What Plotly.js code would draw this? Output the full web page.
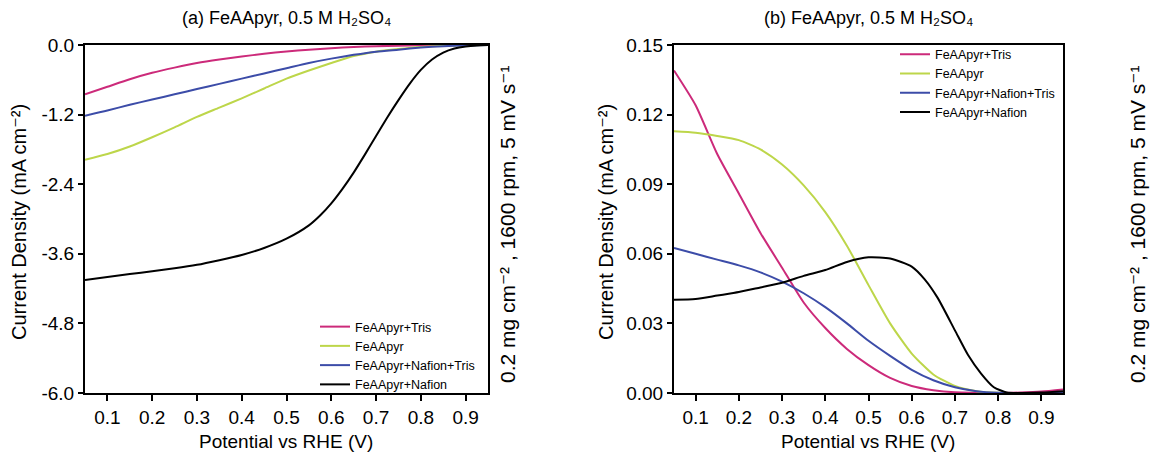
<!DOCTYPE html>
<html>
<head>
<meta charset="utf-8">
<script src="https://cdn.plot.ly/plotly-3.0.1.min.js"></script>
<style>html,body{margin:0;padding:0;background:#fff;}#chart{width:1152px;height:457px;}</style>
</head>
<body>
<div id="chart"></div>
<script>
// ---------- Data ----------
const seriesNames = ["FeAApyr+Tris", "FeAApyr", "FeAApyr+Nafion+Tris", "FeAApyr+Nafion"];

// Panel (a): LSV current density (mA cm^-2)
const potentialA = [0.05,0.1,0.15,0.2,0.25,0.3,0.35,0.4,0.45,0.5,0.55,0.6,0.65,0.7,0.75,0.8,0.85,0.9,0.95];
const trisA = [-0.85,-0.72,-0.59,-0.48,-0.39,-0.31,-0.25,-0.20,-0.15,-0.11,-0.08,-0.055,-0.035,-0.02,-0.012,-0.006,-0.003,-0.001,0];
const feaapyrA = [-1.98,-1.88,-1.75,-1.59,-1.42,-1.24,-1.08,-0.92,-0.75,-0.58,-0.44,-0.31,-0.19,-0.115,-0.07,-0.035,-0.015,-0.005,-0.001];
const nafionTrisA = [-1.22,-1.13,-1.03,-0.94,-0.85,-0.76,-0.67,-0.58,-0.49,-0.40,-0.31,-0.235,-0.17,-0.115,-0.08,-0.045,-0.02,-0.007,-0.002];
const potentialNafionA = [0.05,0.1,0.15,0.2,0.25,0.3,0.35,0.4,0.45,0.5,0.55,0.575,0.6,0.625,0.65,0.675,0.7,0.725,0.75,0.775,0.8,0.825,0.85,0.875,0.9,0.925,0.95];
const nafionA = [-4.05,-4.00,-3.95,-3.90,-3.85,-3.79,-3.71,-3.62,-3.50,-3.34,-3.11,-2.94,-2.73,-2.48,-2.20,-1.89,-1.57,-1.25,-0.95,-0.67,-0.43,-0.25,-0.13,-0.06,-0.025,-0.008,-0.002];

// Panel (b): current density (mA cm^-2)
const potentialB = [0.05,0.1,0.15,0.2,0.25,0.3,0.35,0.4,0.45,0.5,0.55,0.6,0.65,0.7,0.75,0.8,0.85,0.9,0.95];
const trisB = [0.139,0.124,0.103,0.086,0.069,0.054,0.039,0.028,0.019,0.012,0.0065,0.003,0.0012,0.0003,0.0001,0,0.0002,0.0006,0.0015];
const feaapyrB = [0.1128,0.1122,0.1108,0.1090,0.1050,0.0985,0.0895,0.0780,0.0635,0.0465,0.0300,0.0170,0.0080,0.0030,0.0008,0.0001,0,0,0];
const nafionTrisB = [0.0625,0.0600,0.0575,0.0550,0.0520,0.0480,0.0430,0.0370,0.0300,0.0225,0.0160,0.0100,0.0055,0.0025,0.0008,0.0001,0,0,0];
const potentialNafionB = [0.05,0.1,0.15,0.2,0.25,0.3,0.35,0.4,0.45,0.5,0.55,0.6,0.63,0.66,0.7,0.73,0.76,0.79,0.82,0.85,0.9,0.95];
const nafionB = [0.0402,0.0405,0.0420,0.0435,0.0455,0.0475,0.0505,0.0530,0.0565,0.0585,0.0580,0.0545,0.0490,0.0410,0.0270,0.0165,0.0085,0.0025,0.0002,0,0.0002,0.0008];

// Tick labels
const xTickVals = [0.1,0.2,0.3,0.4,0.5,0.6,0.7,0.8,0.9];
const xTickText = ["0.1","0.2","0.3","0.4","0.5","0.6","0.7","0.8","0.9"];
const yTickValsA = [0,-1.2,-2.4,-3.6,-4.8,-6.0];
const yTickTextA = ["0.0","-1.2","-2.4","-3.6","-4.8","-6.0"];
const yTickValsB = [0,0.03,0.06,0.09,0.12,0.15];
const yTickTextB = ["0.00","0.03","0.06","0.09","0.12","0.15"];

// Text
const titleA = "(a) FeAApyr, 0.5 M H\u2082SO\u2084";
const titleB = "(b) FeAApyr, 0.5 M H\u2082SO\u2084";
const xTitle = "Potential vs RHE (V)";
const yTitle = "Current Density (mA cm\u207B\u00B2)";
const sideText = "0.2 mg cm\u207B\u00B2 , 1600 rpm, 5 mV s\u207B\u00B9";

// ---------- Styling ----------
const colors = ["#cc2a7a", "#bdd64a", "#3c4ca8", "#000000"];
const FONT = "Liberation Sans, Arial, DejaVu Sans, sans-serif";

function line(x, y, i, xa, ya, lg) {
  return {x: x, y: y, type: "scatter", mode: "lines", name: seriesNames[i],
    xaxis: xa, yaxis: ya, legend: lg,
    line: {color: colors[i], width: 2, shape: "spline", smoothing: 0.6}};
}

const traces = [
  line(potentialA, trisA, 0, "x", "y", "legend"),
  line(potentialA, feaapyrA, 1, "x", "y", "legend"),
  line(potentialA, nafionTrisA, 2, "x", "y", "legend"),
  line(potentialNafionA, nafionA, 3, "x", "y", "legend"),
  line(potentialB, trisB, 0, "x2", "y2", "legend2"),
  line(potentialB, feaapyrB, 1, "x2", "y2", "legend2"),
  line(potentialB, nafionTrisB, 2, "x2", "y2", "legend2"),
  line(potentialNafionB, nafionB, 3, "x2", "y2", "legend2")
];

const W = 1152, H = 457;
const yDom = [1 - 393/H, 1 - 45/H];

function xaxis(dom, anchor) {
  return {domain: dom, anchor: anchor, range: [0.05, 0.95], tickvals: xTickVals, ticktext: xTickText,
    ticks: "outside", ticklen: 6, tickwidth: 2, tickcolor: "#000",
    showline: true, linecolor: "#000", linewidth: 2, mirror: true,
    showgrid: false, zeroline: false, tickfont: {size: 19, color: "#000", family: FONT}};
}
function yaxis(range, vals, text, anchor) {
  return {domain: yDom, anchor: anchor, range: range, tickvals: vals, ticktext: text,
    ticks: "outside", ticklen: 5, tickwidth: 2, tickcolor: "#000",
    showline: true, linecolor: "#000", linewidth: 2, mirror: true,
    showgrid: false, zeroline: false, tickfont: {size: 19, color: "#000", family: FONT}};
}

function ann(text, xpx, ypx, size, angle) {
  return {text: text, x: xpx / W, y: 1 - ypx / H, xref: "paper", yref: "paper",
    showarrow: false, xanchor: "center", yanchor: "middle", textangle: angle || 0,
    font: {size: size, color: "#000", family: FONT}};
}

const layout = {
  width: W, height: H,
  margin: {l: 0, r: 0, t: 0, b: 0},
  paper_bgcolor: "#fff", plot_bgcolor: "#fff",
  font: {family: FONT, color: "#000"},
  showlegend: true,
  xaxis: xaxis([85/W, 488/W], "y"),
  yaxis: yaxis([-6, 0], yTickValsA, yTickTextA, "x"),
  xaxis2: xaxis([674/W, 1063/W], "y2"),
  yaxis2: yaxis([0, 0.15], yTickValsB, yTickTextB, "x2"),
  legend: {x: 315/W, y: 1 - 312/H, xanchor: "left", yanchor: "top", bgcolor: "rgba(0,0,0,0)",
    font: {size: 12.5, color: "#000", family: FONT}, tracegroupgap: 0, itemwidth: 30},
  legend2: {x: 895/W, y: 1 - 39.5/H, xanchor: "left", yanchor: "top", bgcolor: "rgba(0,0,0,0)",
    font: {size: 12.5, color: "#000", family: FONT}, tracegroupgap: 0, itemwidth: 30},
  annotations: [
    ann(titleA, 286, 18, 18),
    ann(titleB, 868, 18, 18),
    ann(xTitle, 286, 441, 19),
    ann(xTitle, 868, 441, 19),
    ann(yTitle, 19, 222, 20, -90),
    ann(yTitle, 606, 222, 20, -90),
    ann(sideText, 507, 225, 21, -90),
    ann(sideText, 1137, 225, 21, -90)
  ]
};

Plotly.newPlot("chart", traces, layout, {displayModeBar: false, staticPlot: true});
</script>
</body>
</html>
